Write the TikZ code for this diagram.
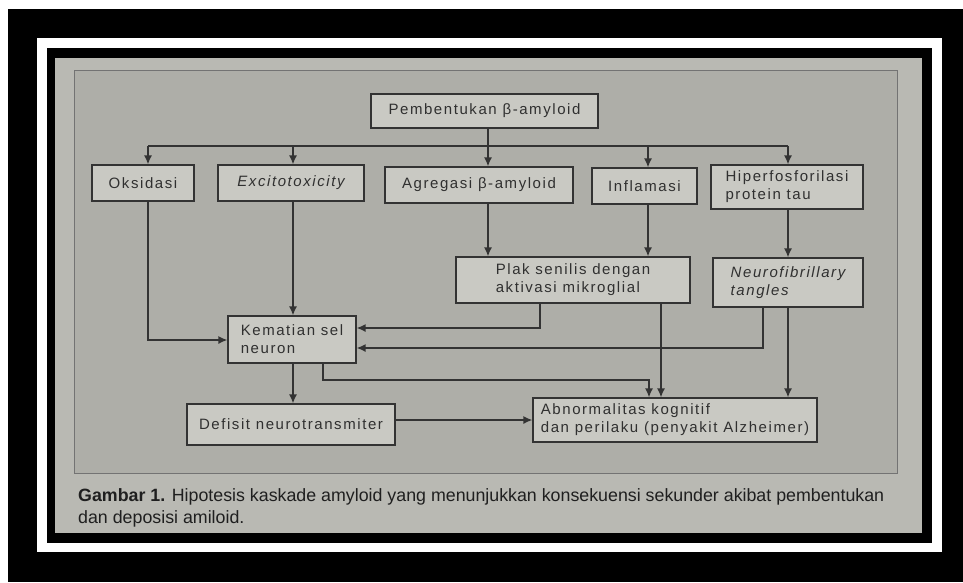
\documentclass[tikz,border=0pt]{standalone}
\usepackage{fontspec}
\usetikzlibrary{arrows.meta}
\newfontfamily\df[LetterSpace=10.5]{Liberation Sans}
\newfontfamily\cf{Liberation Sans}
\definecolor{pagec}{HTML}{B9B9B3}
\definecolor{panelc}{HTML}{AEAEA8}
\definecolor{boxc}{HTML}{C9C9C3}
\definecolor{linec}{HTML}{333333}
\definecolor{textc}{HTML}{303030}
\tikzset{
  box/.style={draw=linec, fill=boxc, line width=1.1pt, inner sep=0pt, text=textc,
    font=\df\fontsize{15}{18}\selectfont, align=left},
  arr/.style={draw=linec, line width=1.6pt, -{Latex[length=9pt,width=8pt]}},
  ln/.style={draw=linec, line width=1.6pt},
}
\begin{document}
\begin{tikzpicture}[x=1pt,y=-1pt]
\useasboundingbox (0,0) rectangle (963,582);
% frame
\fill[white] (0,0) rectangle (963,582);
\fill[black] (8,9) rectangle (963,582);
\fill[white] (37,38) rectangle (942,552);
\fill[black] (47,48) rectangle (932,543);
\fill[pagec] (55,58) rectangle (922,533);
\filldraw[fill=panelc, draw=black!55, line width=0.8pt] (74,70) rectangle (897,473);
% nodes
\node[box, minimum width=227, minimum height=34] (pem) at (484.5,111) {Pembentukan β-amyloid};
\node[box, minimum width=102, minimum height=36] (oks) at (143,183) {Oksidasi};
\node[box, minimum width=146, minimum height=36] (exc) at (291,183) {\itshape Excitotoxicity};
\node[box, minimum width=188, minimum height=36] (agr) at (479,185) {Agregasi β-amyloid};
\node[box, minimum width=105, minimum height=36] (inf) at (644.5,186) {Inflamasi};
\node[box, minimum width=152, minimum height=44] (hip) at (787,187) {Hiperfosforilasi\\protein tau};
\node[box, minimum width=234, minimum height=46] (plak) at (573,280) {Plak senilis dengan\\aktivasi mikroglial};
\node[box, minimum width=150, minimum height=49] (neu) at (788,282.5) {\itshape Neurofibrillary\\\itshape tangles};
\node[box, minimum width=128, minimum height=47] (kem) at (292,339.5) {Kematian sel\\neuron};
\node[box, minimum width=208, minimum height=41] (def) at (291,424.5) {Defisit neurotransmiter};
\node[box, minimum width=284, minimum height=44] (abn) at (675,420) {Abnormalitas kognitif\\dan perilaku (penyakit Alzheimer)};
% bus
\coordinate (busL) at (148,146);
\coordinate (busR) at (788,146);
\coordinate (busC) at (488,146);
\draw[ln] (busL) -- (busR);
\draw[ln] (pem.south -| busC) -- (busC);
\draw[arr] (busL) -- (busL |- oks.north);
\draw[arr] (293,146) -- (293,0 |- exc.north);
\draw[arr] (busC) -- (busC |- agr.north);
\draw[arr] (648,146) -- (648,0 |- inf.north);
\draw[arr] (busR) -- (busR |- hip.north);
% second level
\draw[arr] (agr.south -| busC) -- (busC |- plak.north);
\draw[arr] (inf.south -| 648,0) -- (plak.north -| 648,0);
\draw[arr] (hip.south -| busR) -- (busR |- neu.north);
% to Kematian
\draw[arr] (oks.south -| busL) -- (148,340) -- (kem.west |- 0,340);
\draw[arr] (exc.south -| 293,0) -- (kem.north -| 293,0);
\draw[arr] (plak.south -| 540,0) -- (540,328) -- (kem.east |- 0,328);
\draw[arr] (neu.south -| 763,0) -- (763,348) -- (kem.east |- 0,348);
% to Abnormalitas
\draw[arr] (plak.south -| 661,0) -- (abn.north -| 661,0);
\draw[arr] (neu.south -| busR) -- (abn.north -| busR);
\draw[arr] (kem.south -| 323,0) -- (323,380) -- (649,380) -- (abn.north -| 649,0);
\draw[arr] (kem.south -| 293,0) -- (def.north -| 293,0);
\draw[arr] (def.east |- 0,420) -- (abn.west |- 0,420);
% caption
\node[anchor=base west, inner sep=0pt, text=black!88, font=\cf\fontsize{17.8}{22}\selectfont] (cap1) at (78,501)
  {\textbf{Gambar 1.} Hipotesis kaskade amyloid yang menunjukkan konsekuensi sekunder akibat pembentukan};
\node[anchor=base west, inner sep=0pt, text=black!88, font=\cf\fontsize{17.8}{22}\selectfont] (cap2) at (78,523)
  {dan deposisi amiloid.};
\end{tikzpicture}
\end{document}
